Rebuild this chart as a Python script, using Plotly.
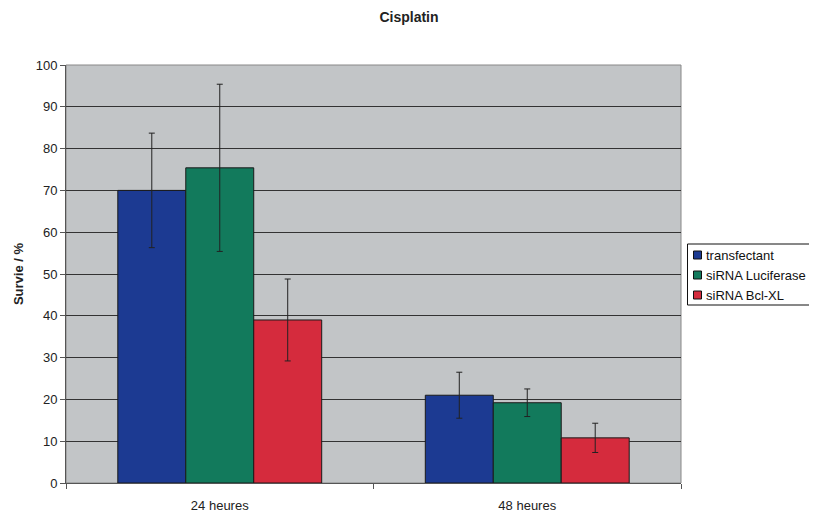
import plotly.graph_objects as go

categories = ["24 heures", "48 heures"]
series_names = ["transfectant", "siRNA Luciferase", "siRNA Bcl-XL"]
transfectant = [70.0, 21.0]
transfectant_err = [13.7, 5.5]
luciferase = [75.4, 19.2]
luciferase_err = [20.0, 3.3]
bclxl = [39.0, 10.8]
bclxl_err = [9.8, 3.5]
colors = ["#1c3a92", "#127a5c", "#d52b3d"]
y_ticks = [0, 10, 20, 30, 40, 50, 60, 70, 80, 90, 100]

fig = go.Figure()
for name, vals, errs, col in zip(series_names,
                                 [transfectant, luciferase, bclxl],
                                 [transfectant_err, luciferase_err, bclxl_err],
                                 colors):
    fig.add_trace(go.Bar(
        x=categories, y=vals, name=name, showlegend=False,
        marker=dict(color=col, line=dict(color="#1a1a1a", width=1)),
        error_y=dict(type="data", array=errs, visible=True,
                     color="#222222", thickness=1, width=3),
    ))

# page body has an 8px margin; size the figure to fit the 817x515 window
OFF = 8
W, H = 817 - OFF, 515 - OFF
L, T, R, B = 66 - OFF, 65 - OFF, 136, 32
PW, PH = W - L - R, H - T - B


def px(xs):  # screen x -> plot-area fraction
    return (xs - OFF - L) / PW


def py(ys):  # screen y -> plot-area fraction
    return (H - B - (ys - OFF)) / PH


fig.update_layout(
    width=W, height=H,
    barmode="group", bargap=0.337, bargroupgap=0,
    paper_bgcolor="white", plot_bgcolor="#c2c5c7",
    margin=dict(l=L, r=R, t=T, b=B, autoexpand=False),
    font=dict(family="Liberation Sans, Arial", size=13, color="#222222"),
    title=dict(text="<b>Cisplatin</b>", x=px(409), xref="paper", y=0.982,
               yanchor="middle", xanchor="center", font=dict(size=14)),
    showlegend=False,
    xaxis=dict(showline=True, linecolor="#555555", linewidth=1,
               ticks="outside", tickson="boundaries", ticklen=5,
               tickcolor="#555555", mirror=False, showgrid=False,
               ticklabelstandoff=10),
    yaxis=dict(range=[0, 100], tickvals=y_ticks, showline=True,
               linecolor="#555555", linewidth=1, ticks="outside", ticklen=5,
               tickcolor="#555555", gridcolor="#333333", gridwidth=1,
               title=dict(text="<b>Survie / %</b>", font=dict(size=13), standoff=9),
               zeroline=False),
)
fig.add_shape(type="rect", xref="paper", yref="paper", x0=0, x1=1, y0=0, y1=1,
              line=dict(color="#888888", width=1), layer="below")

# legend drawn as box + swatches + labels
fig.add_shape(type="rect", xref="paper", yref="paper",
              x0=px(687.5), x1=px(815.5), y0=py(305), y1=py(244),
              line=dict(color="#111111", width=1), fillcolor="white")
for i, (name, col) in enumerate(zip(series_names, colors)):
    yc = 255 + 20 * i
    fig.add_shape(type="rect", xref="paper", yref="paper",
                  x0=px(693.5), x1=px(701.5), y0=py(yc + 4), y1=py(yc - 4),
                  line=dict(color="#111111", width=1), fillcolor=col)
    fig.add_annotation(xref="paper", yref="paper", x=px(704), y=py(yc),
                       xanchor="left", yanchor="middle", text=name,
                       showarrow=False, font=dict(size=13, color="#111111"))

fig.write_html("out.html")
